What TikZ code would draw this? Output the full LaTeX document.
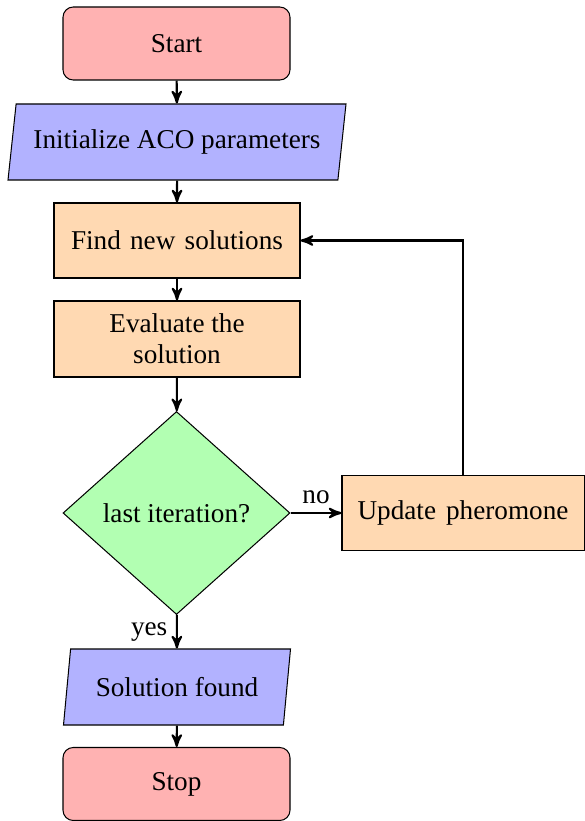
\documentclass[tikz,border=0pt]{standalone}
\usepackage{fontspec}
\setmainfont{Liberation Serif}
\usetikzlibrary{shapes.geometric,arrows}
\def\pxu{0.3897pt}
\begin{document}
\begin{tikzpicture}[x=0.3897pt,y=-0.3897pt,
  every node/.style={font=\fontsize{10.6pt}{12.2pt}\selectfont},
  startstop/.style={rectangle, rounded corners, draw=black, fill=red!30, minimum width=227*\pxu, minimum height=73*\pxu, align=center},
  io/.style={trapezium, trapezium left angle=79, trapezium right angle=101, trapezium stretches body=true, draw=black, fill=blue!30, minimum height=76*\pxu, align=center},
  process/.style={rectangle, draw=black, fill=orange!30, minimum height=75*\pxu, align=center},
  decision/.style={diamond, draw=black, fill=green!30, minimum width=227*\pxu, minimum height=203*\pxu, align=center, inner sep=0pt},
  conn/.style={thick, ->, >=stealth'}]
\useasboundingbox (0,0) rectangle (584,821);
\node[startstop] (start) at (176.5,43.5) {Start};
\node[io, minimum width=338*\pxu] (init) at (177,142) {Initialize ACO parameters};
\node[process, minimum width=246*\pxu] (find) at (177,240.5) {\spaceskip=3.6pt Find new solutions};
\node[process, minimum width=246*\pxu, minimum height=76*\pxu] (eval) at (177,339) {Evaluate the\\solution};
\node[decision] (dec) at (176.5,513) {last iteration?};
\node[process, minimum width=242*\pxu] (upd) at (463,513) {\spaceskip=3.9pt Update pheromone};
\node[io, minimum width=227*\pxu] (sol) at (177,687) {Solution found};
\node[startstop] (stop) at (176.5,784) {Stop};
\draw[conn] (start) -- (init);
\draw[conn] (init) -- (find);
\draw[conn] (find) -- (eval);
\draw[conn] (eval) -- (dec);
\draw[conn] (dec) -- node[left] {yes} (sol);
\draw[conn] (sol) -- (stop);
\draw[conn] (dec) -- node[above] {no} (upd);
\draw[conn] (upd.north) |- (find.east);
\end{tikzpicture}
\end{document}
